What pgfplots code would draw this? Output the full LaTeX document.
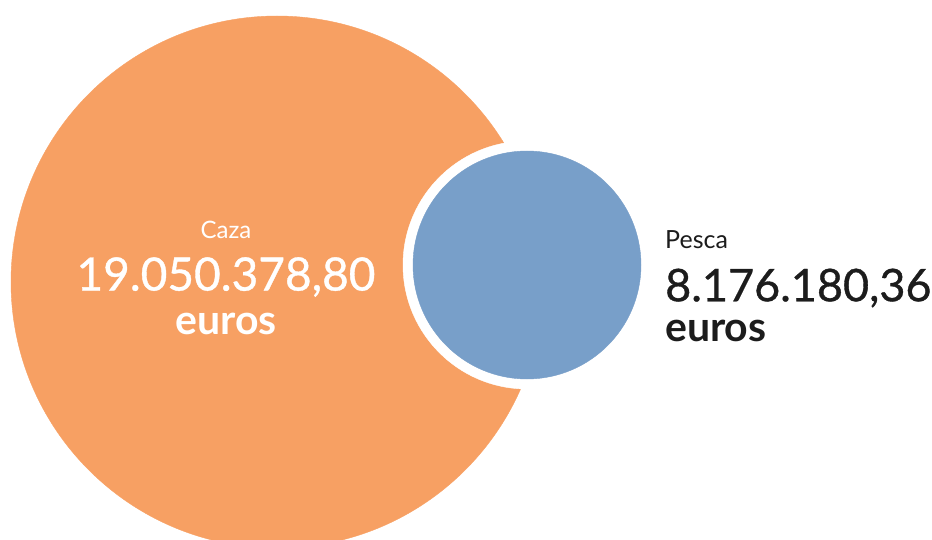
\documentclass[border=0pt]{standalone}
\usepackage{fontspec}
\setmainfont{Lato}
\newfontfamily\numfont[FakeBold=0.8]{Lato}
\usepackage{pgfplots}
\pgfplotsset{compat=1.18}
\definecolor{caza}{HTML}{F7A063}
\definecolor{pesca}{HTML}{789FC9}
\definecolor{txt}{HTML}{1C1C1C}

\begin{document}
\begin{tikzpicture}
\begin{axis}[
    at={(0,0)}, anchor=south west,
    width=932pt, height=539pt, scale only axis,
    xmin=0, xmax=932, ymin=0, ymax=539,
    hide axis, clip=false, set layers=standard,
]
% Caza
\addplot[only marks, mark=*, mark size=266pt, color=caza]
    coordinates {(277,257)};
% white ring round Pesca
\addplot[only marks, mark=*, mark size=124pt, color=white]
    coordinates {(527,274)};
% Pesca
\addplot[only marks, mark=*, mark size=114pt, color=pesca]
    coordinates {(527,274)};

\begin{pgfonlayer}{axis foreground}
\node[white, font=\fontsize{24}{26}\selectfont] at (axis cs:226,309) {Caza};
\node[white, font=\numfont\fontsize{46}{50}\selectfont] at (axis cs:226,262) {19.050.378,80};
\node[white, font=\bfseries\fontsize{41}{44}\selectfont] at (axis cs:226,215) {euros};

\node[txt, anchor=west, inner sep=0pt, font=\fontsize{25}{27}\selectfont] at (axis cs:665,299) {Pesca};
\node[txt, anchor=west, inner sep=0pt, font=\numfont\fontsize{45}{50}\selectfont] at (axis cs:665,251) {8.176.180,36};
\node[txt, anchor=west, inner sep=0pt, font=\bfseries\fontsize{41}{44}\selectfont] at (axis cs:665,208) {euros};
\end{pgfonlayer}
\end{axis}
\pgfresetboundingbox
\useasboundingbox (0,0) rectangle (932pt,539pt);
\end{tikzpicture}
\end{document}
